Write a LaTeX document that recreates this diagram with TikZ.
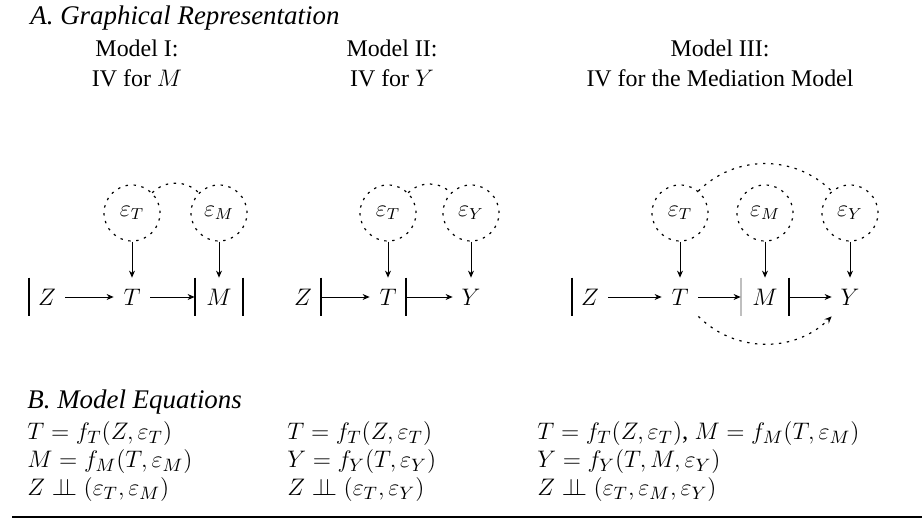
\documentclass[tikz,border=0pt]{standalone}
\usepackage{fontspec}
\setmainfont{Liberation Serif}
\usetikzlibrary{arrows.meta}
\begin{document}
\begin{tikzpicture}[x=0.5bp,y=-0.5bp,
  every node/.style={font=\fontsize{12}{14}\selectfont},
  err/.style={circle,draw,dash pattern=on 1.2bp off 2.8bp,line width=0.6bp,minimum size=28bp,inner sep=0pt},
  var/.style={inner sep=0pt,minimum width=18bp,minimum height=19bp},
  wide/.style={minimum width=24bp},
  arr/.style={-{Stealth[length=3.5bp,width=3bp]},line width=0.4bp},
  corr/.style={dash pattern=on 1.2bp off 2.8bp,line width=0.6bp},
  bar/.style={line width=1bp},
  eq/.style={anchor=west,inner sep=0pt,font=\fontsize{12.5}{14}\selectfont},
  sec/.style={anchor=west,inner sep=0pt,font=\fontsize{13.5}{15}\selectfont\itshape}]
\useasboundingbox (0,0) rectangle (922,519);

% section titles
\node[sec] (ta) at (30,18) {A. Graphical Representation};
\node[sec] (tb) at (27,402) {B. Model Equations};

% headers
\node (h1) at (137,48) {Model I:};
\node (h1b) at (137,78) {IV for $M$};
\node (h2) at (392,48) {Model II:};
\node (h2b) at (392,78) {IV for $Y$};
\node (h3) at (720,48) {Model III:};
\node (h3b) at (720,78) {IV for the Mediation Model};

% Model I
\node[var] (z1) at (47,297) {$Z$};
\node[var] (t1) at (132,297) {$T$};
\node[var,wide] (m1) at (219,297) {$M$};
\node[err] (et1) at (132,213) {$\varepsilon_T$};
\node[err] (em1) at (219,213) {$\varepsilon_M$};
\draw[bar] (z1.north west) -- (z1.south west);
\draw[bar] (m1.north west) -- (m1.south west);
\draw[bar] (m1.north east) -- (m1.south east);
\draw[arr] (z1) -- (t1);
\draw[arr] (t1) -- (m1);
\draw[arr] (et1) -- (t1);
\draw[arr] (em1) -- (m1);
\draw[corr] (et1.45) to[bend left=45] (em1.135);

% Model II
\node[var] (z2) at (303,297) {$Z$};
\node[var] (t2) at (388,297) {$T$};
\node[var] (y2) at (471,297) {$Y$};
\node[err] (et2) at (388,213) {$\varepsilon_T$};
\node[err] (ey2) at (471,213) {$\varepsilon_Y$};
\draw[bar] (z2.north east) -- (z2.south east);
\draw[bar] (t2.north east) -- (t2.south east);
\draw[arr] (z2) -- (t2);
\draw[arr] (t2) -- (y2);
\draw[arr] (et2) -- (t2);
\draw[arr] (ey2) -- (y2);
\draw[corr] (et2.45) to[bend left=45] (ey2.135);

% Model III
\node[var] (z3) at (590,297) {$Z$};
\node[var] (t3) at (680,297) {$T$};
\node[var,wide] (m3) at (765,297) {$M$};
\node[var] (y3) at (850,297) {$Y$};
\node[err] (et3) at (680,213) {$\varepsilon_T$};
\node[err] (em3) at (765,213) {$\varepsilon_M$};
\node[err] (ey3) at (850,213) {$\varepsilon_Y$};
\draw[bar] (z3.north west) -- (z3.south west);
\draw[bar,black!25] (m3.north west) -- (m3.south west);
\draw[bar] (m3.north east) -- (m3.south east);
\draw[arr] (z3) -- (t3);
\draw[arr] (t3) -- (m3);
\draw[arr] (m3) -- (y3);
\draw[arr] (et3) -- (t3);
\draw[arr] (em3) -- (m3);
\draw[arr] (ey3) -- (y3);
\draw[corr] (et3.50) to[bend left=45] (ey3.130);
\draw[corr,-{Stealth[length=3.5bp,width=3bp]}] (t3.south east) to[bend right=45] (y3.south west);

% equations
\node[eq] (e11) at (27,434) {$T = f_T(Z, \varepsilon_T)$};
\node[eq] (e12) at (27,462) {$M = f_M(T, \varepsilon_M)$};
\node[eq] (e13) at (27,490) {$Z \perp\!\!\!\perp (\varepsilon_T, \varepsilon_M)$};
\node[eq] (e21) at (287,434) {$T = f_T(Z, \varepsilon_T)$};
\node[eq] (e22) at (287,462) {$Y = f_Y(T, \varepsilon_Y)$};
\node[eq] (e23) at (287,490) {$Z \perp\!\!\!\perp (\varepsilon_T, \varepsilon_Y)$};
\node[eq] (e31) at (537,434) {$T = f_T(Z, \varepsilon_T)$, $M = f_M(T, \varepsilon_M)$};
\node[eq] (e32) at (537,462) {$Y = f_Y(T, M, \varepsilon_Y)$};
\node[eq] (e33) at (537,490) {$Z \perp\!\!\!\perp (\varepsilon_T, \varepsilon_M, \varepsilon_Y)$};

\coordinate (rl) at (12,517);
\coordinate (rr) at (922,517);
\draw[line width=1bp] (rl) -- (rr);
\end{tikzpicture}
\end{document}
